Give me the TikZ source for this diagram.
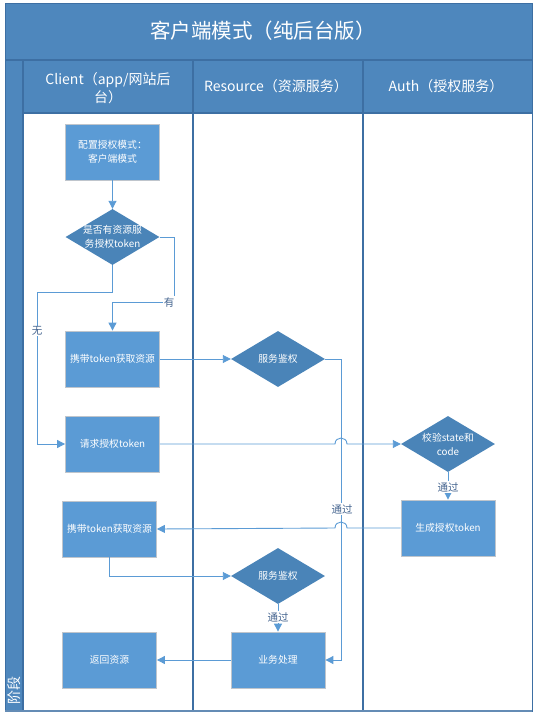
\documentclass[tikz,border=0pt]{standalone}
\usepackage{fontspec}
\setmainfont{Noto Sans CJK SC}
\usetikzlibrary{arrows.meta,shapes.geometric}
\definecolor{band}{HTML}{4E87BD}
\definecolor{frameblue}{HTML}{3D6FA3}
\definecolor{boxblue}{HTML}{5B9BD5}
\definecolor{diablue}{HTML}{4A84B8}
\definecolor{linkblue}{HTML}{5B9BD5}
\definecolor{lbltext}{HTML}{44648F}
\definecolor{boxedge}{HTML}{BFC5CC}
\begin{document}
\begin{tikzpicture}[x=1pt,y=-1pt,
  frameline/.style={draw=frameblue,line width=1.2pt},
  headtext/.style={text=white,font=\fontsize{14}{18}\selectfont,align=center},
  stepbox/.style={rectangle,minimum width=94pt,minimum height=56pt,fill=boxblue,draw=boxedge,line width=0.8pt,text=white,font=\fontsize{9.8}{14}\selectfont,align=center,inner sep=1pt},
  decide/.style={diamond,aspect=1.68,minimum width=94pt,minimum height=56pt,inner sep=0pt,fill=diablue,draw=none},
  dtext/.style={text=white,font=\fontsize{9.8}{14}\selectfont,align=center,inner sep=0pt},
  conn/.style={draw=linkblue,line width=0.9pt,-{Triangle[length=8pt,width=8pt]}},
  lbl/.style={fill=white,text=lbltext,font=\fontsize{10.5}{12}\selectfont,inner sep=1pt}
]
\useasboundingbox (0,0) rectangle (538,718);
% bands
\fill[band] (5,3) rectangle (532,113);
\fill[band] (5,113) rectangle (23,711);
\draw[frameline] (5,60) -- (532,60);
\draw[frameline] (23,113) -- (532,113);
\draw[frameline] (23,60) -- (23,711);
\draw[frameline] (193,60) -- (193,711);
\draw[frameline] (363,60) -- (363,711);
\draw[draw=frameblue,line width=0.8pt] (5,3) rectangle (532,711);
\draw[draw=frameblue!80,line width=1.5pt] (5,711) -- (532,711);
% titles
\node[text=white,font=\fontsize{20.5}{24}\selectfont] (title) at (263,31) {客户端模式（纯后台版）};
\node[headtext] (h1) at (108,88) {Client（app/网站后\\台）};
\node[headtext] (h2) at (276,86) {Resource（资源服务）};
\node[headtext] (h3) at (446,86) {Auth（授权服务）};
\node[text=white,font=\fontsize{14}{16}\selectfont,rotate=90] (stage) at (14,690) {阶段};
% nodes
\node[stepbox] (cfg) at (112.5,152) {配置授权模式：\\客户端模式};
\node[decide,label={[dtext]center:是否有资源服\\务授权token}] (q) at (112.5,237) {};
\node[stepbox] (get1) at (112.5,359) {携带token获取资源};
\node[decide,label={[dtext]center:服务鉴权}] (auth1) at (278,359) {};
\node[stepbox] (req) at (112.5,444) {请求授权token};
\node[decide,label={[dtext]center:校验state和\\code}] (verify) at (448,444) {};
\node[stepbox] (gen) at (448,528) {生成授权token};
\node[stepbox] (get2) at (109.5,529) {携带token获取资源};
\node[decide,label={[dtext]center:服务鉴权}] (auth2) at (278,576) {};
\node[stepbox] (proc) at (278,660) {业务处理};
\node[stepbox] (ret) at (109.5,660) {返回资源};
% connectors
\draw[conn] (cfg) -- (q);
\draw[conn] (q.east) -| (174,302) -| (get1.north);
\node[lbl] (yes) at (169,302) {有};
\draw[conn] (q.south) |- (37,292) |- (req.west);
\node[lbl] (no) at (37,331) {无};
\draw[conn] (get1.east) -- (auth1.west);
\draw[conn] (auth1.east) -- (341,359) |- (proc.east);
\node[lbl] (pass1) at (342,509) {通过};
\draw[conn] (req.east) -- (335,444) .. controls (335,436) and (347,436) .. (347,444) -- (verify.west);
\draw[conn] (verify.south) -- (gen.north);
\node[lbl] (pass2) at (448,487) {通过};
\draw[conn] (gen.west) -- (347,528) .. controls (347,520) and (335,520) .. (335,528) -- (get2.east);
\draw[conn] (get2.south) |- (auth2.west);
\draw[conn] (auth2.south) -- (proc.north);
\node[lbl] (pass3) at (278,617) {通过};
\draw[conn] (proc.west) -- (ret.east);
\end{tikzpicture}
\end{document}
